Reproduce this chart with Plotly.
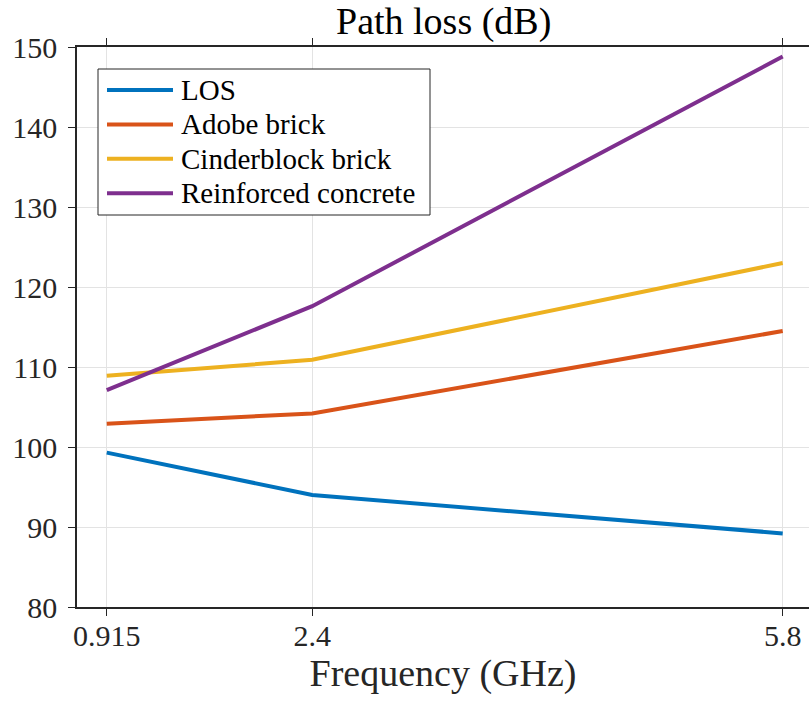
import plotly.graph_objects as go

freq = [0.915, 2.4, 5.8]
freq_labels = ["0.915", "2.4", "5.8"]
los = [99.3, 94.0, 89.2]
adobe = [102.9, 104.2, 114.5]
cinder = [108.9, 110.9, 123.0]
concrete = [107.1, 117.6, 148.8]
names = ["LOS", "Adobe brick", "Cinderblock brick", "Reinforced concrete"]
colors = ["#0072BD", "#D95319", "#EDB120", "#7E2F8E"]
series = [los, adobe, cinder, concrete]

FONT = "Liberation Serif"
W, H = 809, 704
ML, MR, MT, MB = 77, 0, 47, 97
PW, PH = W - ML - MR, H - MT - MB


def px(x):
    return (x - ML) / PW


def py(y):
    return (H - MB - y) / PH


fig = go.Figure()
for name, vals, col in zip(names, series, colors):
    fig.add_trace(go.Scatter(x=freq, y=vals, mode="lines", name=name,
                             line=dict(color=col, width=4), showlegend=False))

# legend drawn as a boxed key (MATLAB style)
shapes = [dict(type="rect", xref="paper", yref="paper",
               x0=px(98), x1=px(430), y0=py(215), y1=py(69),
               line=dict(color="#262626", width=1), fillcolor="white", layer="above")]
annotations = [dict(text="Path loss (dB)", x=0.5, y=1.0, xref="paper", yref="paper",
                    xanchor="center", yanchor="bottom", yshift=2, showarrow=False,
                    font=dict(family=FONT, size=38, color="#000000"))]
row0, dy = 90, 34.4
for i, (name, col) in enumerate(zip(names, colors)):
    yy = row0 + i * dy
    shapes.append(dict(type="line", xref="paper", yref="paper",
                       x0=px(107), x1=px(173), y0=py(yy), y1=py(yy),
                       line=dict(color=col, width=4), layer="above"))
    annotations.append(dict(text=name, x=px(179), y=py(yy), xref="paper", yref="paper",
                            xanchor="left", yanchor="middle", showarrow=False,
                            font=dict(family=FONT, size=29, color="#000000")))

fig.update_layout(
    width=W, height=H,
    margin=dict(l=ML, r=MR, t=MT, b=MB),
    paper_bgcolor="white", plot_bgcolor="white",
    font=dict(family=FONT, size=30, color="#262626"),
    showlegend=False,
    shapes=shapes,
    annotations=annotations,
)
fig.update_xaxes(range=[0.7, 5.99], tickvals=freq, ticktext=freq_labels,
                 showgrid=True, gridcolor="#e3e3e3", gridwidth=1,
                 showline=True, linecolor="#262626", linewidth=1.5, mirror="ticks",
                 ticks="outside", ticklen=7, tickcolor="#262626",
                 ticklabelstandoff=-6,
                 zeroline=False,
                 title=dict(text="Frequency (GHz)", font=dict(family=FONT, size=38, color="#262626"), standoff=2))
fig.update_yaxes(range=[80, 150], tickvals=[80, 90, 100, 110, 120, 130, 140, 150],
                 showgrid=True, gridcolor="#e3e3e3", gridwidth=1,
                 showline=True, linecolor="#262626", linewidth=1.5, mirror=False,
                 ticks="outside", ticklen=7, tickcolor="#262626",
                 ticklabelstandoff=5,
                 zeroline=False)

fig.write_html("out.html")
